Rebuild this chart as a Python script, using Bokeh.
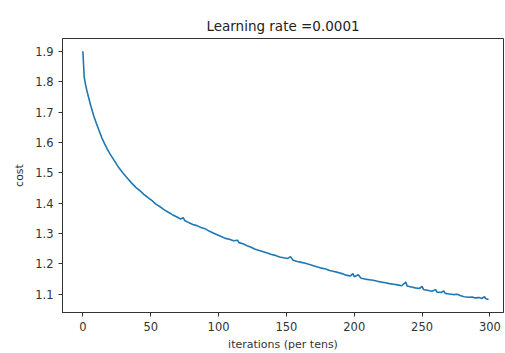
from bokeh.plotting import figure
from bokeh.models import Range1d, FixedTicker
from bokeh.embed import file_html
from bokeh.resources import INLINE

# iterations (per tens) and cost
iterations = [0, 1, 2, 3, 4, 6, 8, 10, 12, 14, 16, 18, 20, 22, 24, 26, 28, 30, 33, 36,
              39, 42, 45, 48, 51, 54, 57, 60, 63, 66, 69, 72, 74, 75, 78, 81, 84, 87, 90, 93,
              96, 99, 102, 105, 108, 111, 114, 115, 118, 121, 124, 127, 130, 133, 136, 139, 142, 145, 148, 151,
              153, 155, 158, 161, 164, 167, 170, 173, 176, 179, 182, 185, 188, 191, 194, 197, 199, 200, 203, 205,
              208, 211, 214, 217, 220, 223, 226, 229, 232, 235, 238, 239, 242, 245, 248, 250, 251, 254, 257, 260,
              261, 264, 266, 267, 270, 273, 276, 278, 281, 284, 287, 289, 292, 294, 296, 297, 299]
cost = [1.900, 1.815, 1.790, 1.770, 1.752, 1.718, 1.688, 1.662, 1.638, 1.615, 1.596, 1.578, 1.562, 1.548, 1.534, 1.520, 1.508, 1.497, 1.481, 1.466,
        1.452, 1.441, 1.429, 1.418, 1.408, 1.396, 1.388, 1.378, 1.370, 1.362, 1.355, 1.348, 1.352, 1.343, 1.336, 1.330, 1.326, 1.320, 1.316, 1.308,
        1.302, 1.296, 1.290, 1.284, 1.281, 1.276, 1.278, 1.270, 1.266, 1.260, 1.255, 1.248, 1.244, 1.240, 1.236, 1.231, 1.228, 1.223, 1.220, 1.218,
        1.224, 1.212, 1.208, 1.205, 1.202, 1.198, 1.194, 1.190, 1.186, 1.183, 1.178, 1.175, 1.172, 1.168, 1.163, 1.160, 1.168, 1.158, 1.164, 1.153,
        1.150, 1.148, 1.146, 1.143, 1.140, 1.138, 1.135, 1.133, 1.131, 1.128, 1.140, 1.127, 1.124, 1.121, 1.119, 1.126, 1.116, 1.113, 1.110, 1.115,
        1.107, 1.106, 1.111, 1.103, 1.101, 1.099, 1.100, 1.096, 1.092, 1.090, 1.091, 1.088, 1.089, 1.086, 1.092, 1.085, 1.083]

x_ticks = [0, 50, 100, 150, 200, 250, 300]
y_ticks = [1.1, 1.2, 1.3, 1.4, 1.5, 1.6, 1.7, 1.8, 1.9]

FONT = "DejaVu Sans"

p = figure(width=505, height=353, output_backend="svg", toolbar_location=None,
           x_range=Range1d(-15, 310), y_range=Range1d(1.04, 1.942),
           title="Learning rate =0.0001",
           min_border_left=62, min_border_right=2, min_border_top=38, min_border_bottom=41)

p.line(iterations, cost, line_color="#1f77b4", line_width=1.6)

p.title.align = "center"
p.title.text_font = FONT
p.title.text_font_size = "13.5px"
p.title.text_font_style = "normal"
p.title.text_color = "#222222"
p.title.offset = 0

p.xgrid.visible = False
p.ygrid.visible = False
p.outline_line_color = "#333333"
p.outline_line_width = 1
p.outline_line_alpha = 1

for ax in (p.xaxis, p.yaxis):
    ax.axis_line_color = "#333333"
    ax.major_tick_line_color = "#333333"
    ax.major_tick_out = 4
    ax.major_tick_in = 0
    ax.minor_tick_line_color = None
    ax.major_label_text_font = FONT
    ax.major_label_text_font_size = "11.5px"
    ax.major_label_text_color = "#333333"
    ax.axis_label_text_font = FONT
    ax.axis_label_text_font_size = "11px"
    ax.axis_label_text_font_style = "normal"
    ax.axis_label_text_color = "#333333"

p.xaxis.ticker = FixedTicker(ticks=x_ticks)
p.yaxis.ticker = FixedTicker(ticks=y_ticks)
p.xaxis.axis_label = "iterations (per tens)"
p.yaxis.axis_label = "cost"
p.xaxis.major_label_standoff = 5
p.yaxis.major_label_standoff = 5
p.xaxis.axis_label_standoff = 4
p.yaxis.axis_label_standoff = 6

open("out.html", "w").write(file_html(p, INLINE))
